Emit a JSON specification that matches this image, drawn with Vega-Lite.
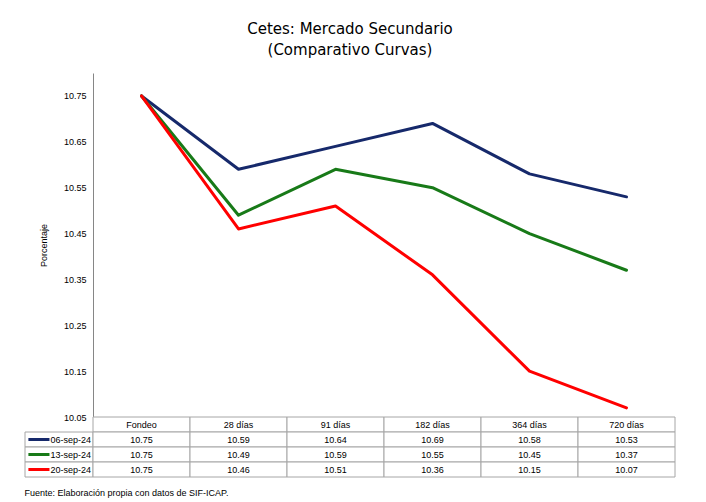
{
  "$schema": "https://vega.github.io/schema/vega-lite/v6.json",
  "padding": {"left": 24, "top": 22, "right": 5, "bottom": 5},
  "background": "white",
  "title": {
    "text": ["Cetes: Mercado Secundario", "(Comparativo Curvas)"],
    "font": "DejaVu Sans",
    "fontSize": 15,
    "fontWeight": "normal",
    "color": "#000000",
    "anchor": "middle",
    "lineHeight": 21,
    "offset": 15
  },
  "datasets": {
    "curvas": [
      {"serie": "06-sep-24", "plazo": "Fondeo", "tasa": 10.75},
      {"serie": "06-sep-24", "plazo": "28 días", "tasa": 10.59},
      {"serie": "06-sep-24", "plazo": "91 días", "tasa": 10.64},
      {"serie": "06-sep-24", "plazo": "182 días", "tasa": 10.69},
      {"serie": "06-sep-24", "plazo": "364 días", "tasa": 10.58},
      {"serie": "06-sep-24", "plazo": "720 días", "tasa": 10.53},
      {"serie": "13-sep-24", "plazo": "Fondeo", "tasa": 10.75},
      {"serie": "13-sep-24", "plazo": "28 días", "tasa": 10.49},
      {"serie": "13-sep-24", "plazo": "91 días", "tasa": 10.59},
      {"serie": "13-sep-24", "plazo": "182 días", "tasa": 10.55},
      {"serie": "13-sep-24", "plazo": "364 días", "tasa": 10.45},
      {"serie": "13-sep-24", "plazo": "720 días", "tasa": 10.37},
      {"serie": "20-sep-24", "plazo": "Fondeo", "tasa": 10.75},
      {"serie": "20-sep-24", "plazo": "28 días", "tasa": 10.46},
      {"serie": "20-sep-24", "plazo": "91 días", "tasa": 10.51},
      {"serie": "20-sep-24", "plazo": "182 días", "tasa": 10.36},
      {"serie": "20-sep-24", "plazo": "364 días", "tasa": 10.15},
      {"serie": "20-sep-24", "plazo": "720 días", "tasa": 10.07}
    ]
  },
  "data": {"name": "curvas"},
  "spacing": 0,
  "bounds": "flush",
  "columns": 2,
  "concat": [
    {
      "width": 68,
      "height": 344,
      "data": {"values": []},
      "mark": "point",
      "encoding": {}
    },
    {
      "width": 582,
      "height": 344,
      "mark": {"type": "line", "strokeWidth": 3, "strokeJoin": "round", "strokeCap": "round"},
      "encoding": {
        "x": {
          "field": "plazo",
          "type": "ordinal",
          "sort": ["Fondeo", "28 días", "91 días", "182 días", "364 días", "720 días"],
          "scale": {"type": "point", "padding": 0.5},
          "axis": null
        },
        "y": {
          "field": "tasa",
          "type": "quantitative",
          "scale": {"domain": [10.05, 10.8], "nice": false, "zero": false},
          "axis": {
            "title": "Porcentaje",
            "values": [10.05, 10.15, 10.25, 10.35, 10.45, 10.55, 10.65, 10.75],
            "format": ".2f",
            "grid": false,
            "ticks": false,
            "labelPadding": 7,
            "labelFont": "Liberation Sans",
            "labelFontSize": 9,
            "labelColor": "#000000",
            "titleFont": "Liberation Sans",
            "titleFontSize": 9,
            "titleFontWeight": "normal",
            "titleColor": "#000000",
            "titlePadding": 15,
            "domainColor": "#868686",
            "domainWidth": 1
          }
        },
        "color": {
          "field": "serie",
          "type": "nominal",
          "scale": {
            "domain": ["06-sep-24", "13-sep-24", "20-sep-24"],
            "range": ["#16296b", "#187a18", "#ff0000"]
          },
          "legend": null
        }
      }
    },
    {
      "width": 68,
      "height": 60,
      "title": {
        "text": "Fuente: Elaboración propia con datos de SIF-ICAP.",
        "orient": "bottom",
        "anchor": "start",
        "font": "Liberation Sans",
        "fontSize": 9,
        "fontWeight": "normal",
        "color": "#000000",
        "offset": 11
      },
      "encoding": {
        "y": {
          "field": "serie",
          "type": "nominal",
          "scale": {"type": "band", "domain": ["h", "06-sep-24", "13-sep-24", "20-sep-24"], "paddingInner": 0, "paddingOuter": 0},
          "axis": null
        }
      },
      "layer": [
        {
          "transform": [{"filter": "datum.plazo == 'Fondeo'"}],
          "mark": {"type": "rect", "fill": "white", "stroke": "#a6a6a6", "strokeWidth": 1},
          "encoding": {
            "x": {"datum": 0, "type": "quantitative", "scale": {"domain": [0, 1], "nice": false, "zero": false}, "axis": null},
            "x2": {"datum": 1}
          }
        },
        {
          "transform": [{"filter": "datum.plazo == 'Fondeo'"}],
          "mark": {"type": "rule", "strokeWidth": 3},
          "encoding": {
            "x": {"datum": 0.05, "type": "quantitative"},
            "x2": {"datum": 0.36},
            "color": {
              "field": "serie",
              "type": "nominal",
              "scale": {
                "domain": ["06-sep-24", "13-sep-24", "20-sep-24"],
                "range": ["#16296b", "#187a18", "#ff0000"]
              },
              "legend": null
            }
          }
        },
        {
          "transform": [{"filter": "datum.plazo == 'Fondeo'"}],
          "mark": {"type": "text", "align": "right", "baseline": "middle", "font": "Liberation Sans", "fontSize": 9, "color": "#000000"},
          "encoding": {
            "x": {"datum": 0.97, "type": "quantitative"},
            "text": {"field": "serie"}
          }
        }
      ]
    },
    {
      "width": 582,
      "height": 60,
      "encoding": {
        "x": {
          "field": "plazo",
          "type": "ordinal",
          "sort": ["Fondeo", "28 días", "91 días", "182 días", "364 días", "720 días"],
          "scale": {"type": "band", "paddingInner": 0, "paddingOuter": 0},
          "axis": null
        }
      },
      "layer": [
        {
          "transform": [{"filter": "datum.serie == '06-sep-24'"}],
          "mark": {"type": "rect", "fill": "white", "stroke": "#a6a6a6", "strokeWidth": 1},
          "encoding": {
            "y": {
              "datum": "h",
              "type": "nominal",
              "scale": {"type": "band", "domain": ["h", "06-sep-24", "13-sep-24", "20-sep-24"], "paddingInner": 0, "paddingOuter": 0},
              "axis": null
            }
          }
        },
        {
          "mark": {"type": "rect", "fill": "white", "stroke": "#a6a6a6", "strokeWidth": 1},
          "encoding": {
            "y": {"field": "serie", "type": "nominal"}
          }
        },
        {
          "transform": [{"filter": "datum.serie == '06-sep-24'"}],
          "mark": {"type": "text", "align": "center", "baseline": "middle", "font": "Liberation Sans", "fontSize": 9, "color": "#000000"},
          "encoding": {
            "y": {"datum": "h", "type": "nominal"},
            "text": {"field": "plazo"}
          }
        },
        {
          "mark": {"type": "text", "align": "center", "baseline": "middle", "font": "Liberation Sans", "fontSize": 9, "color": "#000000"},
          "encoding": {
            "y": {"field": "serie", "type": "nominal"},
            "text": {"field": "tasa", "type": "quantitative", "format": ".2f"}
          }
        }
      ]
    }
  ],
  "config": {
    "view": {"stroke": null},
    "font": "Liberation Sans"
  }
}
